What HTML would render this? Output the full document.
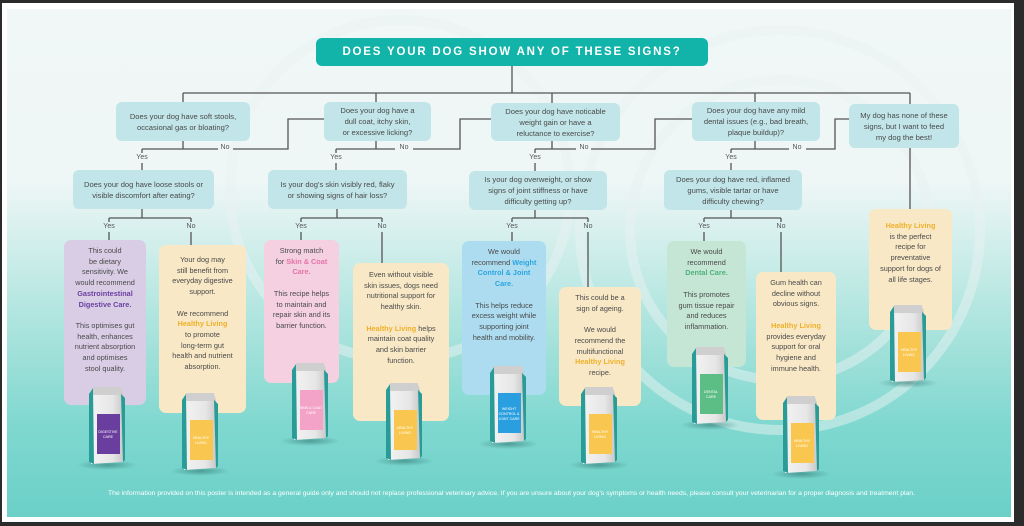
<!DOCTYPE html>
<html><head><meta charset="utf-8"><style>
*{margin:0;padding:0;box-sizing:border-box}
body{width:1024px;height:526px;background:#2b2b2b;position:relative;overflow:hidden;font-family:"Liberation Sans",sans-serif;color:#555}
.wh{position:absolute;left:2px;top:3px;width:1012px;height:519px;background:#fff}
.poster{position:absolute;left:7px;top:9px;width:1004px;height:508px;background:linear-gradient(180deg,#f1f7f7 0%,#eef6f6 34%,#c9ece8 50%,#9fe0d9 68%,#7fd8d0 82%,#6bd0c8 100%)}
.q{position:absolute;background:#c1e5e8;border-radius:6px;font-size:7.6px;line-height:11px;text-align:center;display:flex;align-items:center;justify-content:center;color:#4a4a4a}
.r{position:absolute;border-radius:7px;font-size:7.3px;line-height:10.7px;text-align:center;color:#4a4a4a;padding-top:8px}
.lbl{position:absolute;font-size:7px;color:#555;background:transparent;transform:translateX(-50%)}
.title{position:absolute;left:316px;top:38px;width:392px;height:28px;background:#12b3a8;border-radius:6px;color:#fff;font-weight:bold;font-size:11.5px;letter-spacing:1.8px;text-align:center;line-height:28px}
b.p{color:#6b3fa0}b.y{color:#f0b02a}b.k{color:#e573a8}b.bl{color:#2aa6df}b.g{color:#4db37c}
</style></head><body>
<div class="wh"></div><div class="poster"></div>
<svg style="position:absolute;left:0;top:0" width="1024" height="526">
<g fill="none" stroke="#e9f2f2" stroke-width="10" opacity="0.5">
<circle cx="780" cy="230" r="150"/><circle cx="780" cy="230" r="200"/><circle cx="400" cy="190" r="170"/>
</g></svg>
<div class="title">DOES YOUR DOG SHOW ANY OF THESE SIGNS?</div>
<svg style="position:absolute;left:0;top:0" width="1024" height="526" fill="none" stroke="#555" stroke-width="1.3">
<path d="M512 66V93M183 93H910M183 93V102M376 93V102M552 93V103M755 93V102M910 93V104"/>
<path d="M183 141V149M142 149H218M233 149H288V119H324M142 149V153M142 163V170"/>
<path d="M376 141V149M336 149H395M413 149H460V119H491M336 149V153M336 163V170"/>
<path d="M552 141V149M535 149H576M591 149H655V119H692M535 149V153M535 163V171"/>
<path d="M755 141V149M731 149H789M806 149H835V119H849M731 149V153M731 163V170"/>
<path d="M910 148V209"/>
<path d="M142 209V218M109 218H191M109 218V222M191 218V222M109 232V240M191 232V245"/>
<path d="M337 209V218M301 218H382M301 218V222M382 218V222M301 232V240M382 232V263"/>
<path d="M535 210V218M512 218H588M512 218V222M588 218V222M512 232V241M588 232V287"/>
<path d="M731 210V218M704 218H781M704 218V222M781 218V222M704 232V241M781 232V272"/>
</svg>
<div class="lbl" style="left:225px;top:144px">No</div>
<div class="lbl" style="left:404px;top:144px">No</div>
<div class="lbl" style="left:584px;top:144px">No</div>
<div class="lbl" style="left:797px;top:144px">No</div>
<div class="lbl" style="left:142px;top:154px">Yes</div>
<div class="lbl" style="left:336px;top:154px">Yes</div>
<div class="lbl" style="left:535px;top:154px">Yes</div>
<div class="lbl" style="left:731px;top:154px">Yes</div>
<div class="lbl" style="left:109px;top:223px">Yes</div><div class="lbl" style="left:191px;top:223px">No</div>
<div class="lbl" style="left:301px;top:223px">Yes</div><div class="lbl" style="left:382px;top:223px">No</div>
<div class="lbl" style="left:512px;top:223px">Yes</div><div class="lbl" style="left:588px;top:223px">No</div>
<div class="lbl" style="left:704px;top:223px">Yes</div><div class="lbl" style="left:781px;top:223px">No</div>

<div class="q" style="left:116px;top:102px;width:134px;height:39px">Does your dog have soft stools,<br>occasional gas or bloating?</div>
<div class="q" style="left:324px;top:102px;width:107px;height:39px">Does your dog have a<br>dull coat, itchy skin,<br>or excessive licking?</div>
<div class="q" style="left:491px;top:103px;width:129px;height:38px">Does your dog have noticable<br>weight gain or have a<br>reluctance to exercise?</div>
<div class="q" style="left:692px;top:102px;width:128px;height:39px">Does your dog have any mild<br>dental issues (e.g., bad breath,<br>plaque buildup)?</div>
<div class="q" style="left:849px;top:104px;width:110px;height:44px">My dog has none of these<br>signs, but I want to feed<br>my dog the best!</div>
<div class="q" style="left:73px;top:170px;width:141px;height:39px">Does your dog have loose stools or<br>visible discomfort after eating?</div>
<div class="q" style="left:268px;top:170px;width:139px;height:39px">Is your dog's skin visibly red, flaky<br>or showing signs of hair loss?</div>
<div class="q" style="left:469px;top:171px;width:138px;height:39px">Is your dog overweight, or show<br>signs of joint stiffness or have<br>difficulty getting up?</div>
<div class="q" style="left:664px;top:170px;width:138px;height:40px">Does your dog have red, inflamed<br>gums, visible tartar or have<br>difficulty chewing?</div>

<div class="r" style="left:64px;top:240px;width:82px;height:165px;background:#d9cde6;padding-top:6px">This could<br>be dietary<br>sensitivity. We<br>would recommend<br><b class="p">Gastrointestinal<br>Digestive Care.</b><br><br>This optimises gut<br>health, enhances<br>nutrient absorption<br>and optimises<br>stool quality.</div>
<div class="r" style="left:159px;top:245px;width:87px;height:168px;background:#f8e8c6;padding-top:10px">Your dog may<br>still benefit from<br>everyday digestive<br>support.<br><br>We recommend<br><b class="y">Healthy Living</b><br>to promote<br>long-term gut<br>health and nutrient<br>absorption.</div>
<div class="r" style="left:264px;top:240px;width:75px;height:143px;background:#f4d0e1;padding-top:6px">Strong match<br>for <b class="k">Skin &amp; Coat<br>Care.</b><br><br>This recipe helps<br>to maintain and<br>repair skin and its<br>barrier function.</div>
<div class="r" style="left:353px;top:263px;width:96px;height:158px;background:#f8e8c6;padding-top:7px">Even without visible<br>skin issues, dogs need<br>nutritional support for<br>healthy skin.<br><br><b class="y">Healthy Living</b> helps<br>maintain coat quality<br>and skin barrier<br>function.</div>
<div class="r" style="left:462px;top:241px;width:84px;height:154px;background:#addcf0;padding-top:6px">We would<br>recommend <b class="bl">Weight<br>Control &amp; Joint<br>Care.</b><br><br>This helps reduce<br>excess weight while<br>supporting joint<br>health and mobility.</div>
<div class="r" style="left:559px;top:287px;width:82px;height:119px;background:#f8e8c6;padding-top:6px">This could be a<br>sign of ageing.<br><br>We would<br>recommend the<br>multifunctional<br><b class="y">Healthy Living</b><br>recipe.</div>
<div class="r" style="left:667px;top:241px;width:79px;height:126px;background:#c5e5d5;padding-top:6px">We would<br>recommend<br><b class="g">Dental Care.</b><br><br>This promotes<br>gum tissue repair<br>and reduces<br>inflammation.</div>
<div class="r" style="left:756px;top:272px;width:80px;height:148px;background:#f8e8c6;padding-top:6px">Gum health can<br>decline without<br>obvious signs.<br><br><b class="y">Healthy Living</b><br>provides everyday<br>support for oral<br>hygiene and<br>immune health.</div>
<div class="r" style="left:869px;top:209px;width:83px;height:121px;background:#f8e8c6;padding-top:12px"><b class="y">Healthy Living</b><br>is the perfect<br>recipe for<br>preventative<br>support for dogs of<br>all life stages.</div>

<svg style="position:absolute;left:0;top:0" width="1024" height="526">
<defs>
<linearGradient id="bg" x1="0" x2="1"><stop offset="0" stop-color="#f4f4f4"/><stop offset="0.7" stop-color="#e6e6e6"/><stop offset="1" stop-color="#c9c9c9"/></linearGradient>
<radialGradient id="sh"><stop offset="0" stop-color="#2a6e6a" stop-opacity="0.55"/><stop offset="1" stop-color="#2a6e6a" stop-opacity="0"/></radialGradient>
<g id="bag">
<ellipse cx="22" cy="79" rx="30" ry="5" fill="url(#sh)"/>
<path d="M4 8 L8 2 L36 2 L38 8 L38 76 L6 78 Z" fill="url(#bg)"/>
<path d="M4 8 L8 2 L9 78 L4 76 Z" fill="#2a9c98"/>
<path d="M36 8 L40 12 L40 74 L38 76 Z" fill="#2a9c98"/>
<rect x="8" y="1" width="28" height="8" fill="#cfcfcf"/>
</g>
</defs>
<g font-family="Liberation Sans,sans-serif" font-size="3.6" fill="#fff" text-anchor="middle">
<g transform="translate(85,386)"><use href="#bag"/><rect x="12" y="28" width="23" height="40" fill="#6a3e9e"/><text x="23" y="47">DIGESTIVE</text><text x="23" y="52">CARE</text></g>
<g transform="translate(178,392)"><use href="#bag"/><rect x="12" y="28" width="23" height="40" fill="#f9c74f"/><text x="23" y="47">HEALTHY</text><text x="23" y="52">LIVING</text></g>
<g transform="translate(288,362)"><use href="#bag"/><rect x="12" y="28" width="23" height="40" fill="#f3a3c8"/><text x="23" y="47">SKIN &amp; COAT</text><text x="23" y="52">CARE</text></g>
<g transform="translate(382,382)"><use href="#bag"/><rect x="12" y="28" width="23" height="40" fill="#f9c74f"/><text x="23" y="47">HEALTHY</text><text x="23" y="52">LIVING</text></g>
<g transform="translate(486,365)"><use href="#bag"/><rect x="12" y="28" width="23" height="40" fill="#2a9fe0"/><text x="23" y="45">WEIGHT</text><text x="23" y="50">CONTROL &amp;</text><text x="23" y="55">JOINT CARE</text></g>
<g transform="translate(577,386)"><use href="#bag"/><rect x="12" y="28" width="23" height="40" fill="#f9c74f"/><text x="23" y="47">HEALTHY</text><text x="23" y="52">LIVING</text></g>
<g transform="translate(688,346)"><use href="#bag"/><rect x="12" y="28" width="23" height="40" fill="#5dbe85"/><text x="23" y="47">DENTAL</text><text x="23" y="52">CARE</text></g>
<g transform="translate(779,395)"><use href="#bag"/><rect x="12" y="28" width="23" height="40" fill="#f9c74f"/><text x="23" y="47">HEALTHY</text><text x="23" y="52">LIVING</text></g>
<g transform="translate(886,304)"><use href="#bag"/><rect x="12" y="28" width="23" height="40" fill="#f9c74f"/><text x="23" y="47">HEALTHY</text><text x="23" y="52">LIVING</text></g>
</g>
<text x="108" y="495" textLength="807" lengthAdjust="spacingAndGlyphs" font-family="Liberation Sans,sans-serif" font-size="6" fill="#fff">The information provided on this poster is intended as a general guide only and should not replace professional veterinary advice. If you are unsure about your dog's symptoms or health needs, please consult your veterinarian for a proper diagnosis and treatment plan.</text>
</svg>
</body></html>
